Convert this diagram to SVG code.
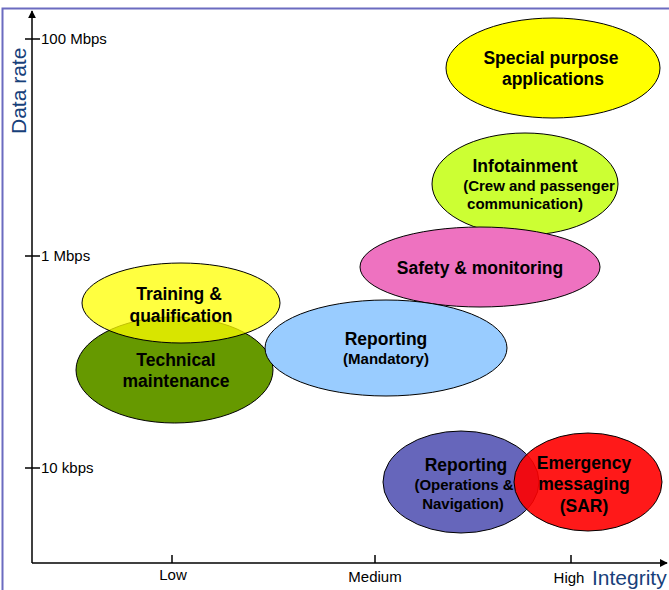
<svg xmlns="http://www.w3.org/2000/svg" width="669" height="590" viewBox="0 0 669 590">
<defs>
<style>
.n ellipse{stroke:#000;stroke-width:1}
.t{font-family:"Liberation Sans",Arial,sans-serif;font-weight:bold;fill:#000;text-anchor:middle}
.big{font-size:17.5px}
.sm{font-size:15px}
.ax{font-family:"Liberation Sans",Arial,sans-serif;font-size:15px;fill:#000}
.title{font-family:"Liberation Sans",Arial,sans-serif;font-size:21px;fill:#17407a}
.line{stroke:#000;stroke-width:1.5;fill:none}
</style>
<marker id="arr" viewBox="0 0 10 10" refX="9" refY="5" markerWidth="8" markerHeight="8" orient="auto" markerUnits="userSpaceOnUse">
<path d="M0,0 L10,5 L0,10 z" fill="#000"/>
</marker>
</defs>
<rect x="0" y="0" width="669" height="590" fill="#fff"/>
<path d="M2.5,590 V8.5 H669" stroke="#6b6bc0" stroke-width="2" fill="none"/>

<g id="axes">
<line class="line" x1="32" y1="563" x2="32" y2="11" marker-end="url(#arr)"/>
<line class="line" x1="32" y1="563" x2="667" y2="563" marker-end="url(#arr)"/>
<line class="line" x1="25" y1="39" x2="40" y2="39"/>
<line class="line" x1="25" y1="256" x2="40" y2="256"/>
<line class="line" x1="25" y1="468" x2="40" y2="468"/>
<line class="line" x1="172" y1="555" x2="172" y2="563"/>
<line class="line" x1="375" y1="555" x2="375" y2="563"/>
<line class="line" x1="571" y1="555" x2="571" y2="563"/>
<text class="ax" x="41" y="44">100 Mbps</text>
<text class="ax" x="41" y="261">1 Mbps</text>
<text class="ax" x="41" y="473">10 kbps</text>
<text class="ax" x="173" y="580" text-anchor="middle">Low</text>
<text class="ax" x="375" y="582" text-anchor="middle">Medium</text>
<text class="ax" x="569" y="583" text-anchor="middle">High</text>
<text class="title" x="592" y="585">Integrity</text>
<text class="title" transform="translate(26,134) rotate(-90)">Data rate</text>
</g>

<g id="special" class="n">
<ellipse cx="553" cy="68" rx="107" ry="50" fill="#ffff00"/>
<text class="t big" x="551" y="64">Special purpose</text>
<text class="t big" x="553" y="85">applications</text>
</g>

<g id="infotainment" class="n">
<ellipse cx="525" cy="184" rx="93" ry="51" fill="#ccff33"/>
<text class="t big" x="525" y="172">Infotainment</text>
<text class="t sm" x="539" y="191">(Crew and passenger</text>
<text class="t sm" x="525" y="209">communication)</text>
</g>

<g id="safety" class="n">
<ellipse cx="480" cy="267" rx="120" ry="40" fill="#ee72c0"/>
<text class="t big" x="480" y="274">Safety &amp; monitoring</text>
</g>

<g id="technical" class="n">
<ellipse cx="174.5" cy="370" rx="98.5" ry="53" fill="#669900"/>
<text class="t big" x="176" y="366">Technical</text>
<text class="t big" x="176" y="387">maintenance</text>
</g>

<g id="training" class="n">
<ellipse cx="181" cy="303" rx="99" ry="40" fill="#ffff00" fill-opacity="0.75"/>
<text class="t big" x="179" y="300">Training &amp;</text>
<text class="t big" x="181" y="322">qualification</text>
</g>

<g id="reporting-mandatory" class="n">
<ellipse cx="386" cy="348" rx="121" ry="48" fill="#99ccff"/>
<text class="t big" x="386" y="345">Reporting</text>
<text class="t sm" x="386" y="364">(Mandatory)</text>
</g>

<g id="reporting-ops" class="n">
<ellipse cx="461" cy="482" rx="78" ry="51" fill="#6666bb"/>
<text class="t big" x="466" y="471">Reporting</text>
<text class="t sm" x="464" y="490">(Operations &amp;</text>
<text class="t sm" x="463" y="509">Navigation)</text>
</g>

<g id="emergency" class="n">
<ellipse cx="588" cy="482" rx="74" ry="49" fill="#ff0000" fill-opacity="0.9"/>
<text class="t big" x="584" y="469">Emergency</text>
<text class="t big" x="584" y="490">messaging</text>
<text class="t big" x="584" y="512">(SAR)</text>
</g>
</svg>
